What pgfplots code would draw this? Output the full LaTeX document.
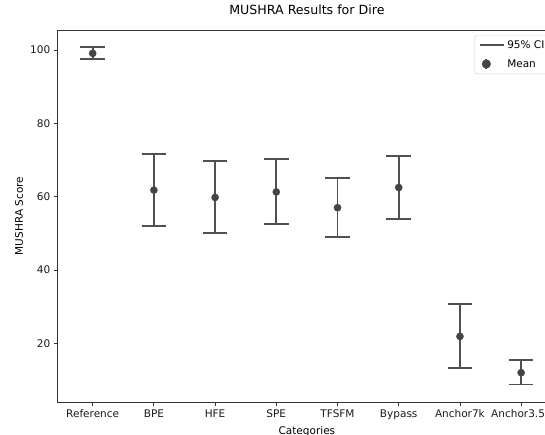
\documentclass[border=0pt]{standalone}
\usepackage{pgfplots}
\pgfplotsset{compat=1.18}
\usepackage{pgfplotstable}
\usepackage{fontspec}
\setmainfont{DejaVu Sans}
\definecolor{ebar}{HTML}{505050}
\definecolor{dotc}{HTML}{444444}

\pgfplotstableread{
x y ep em
0 99.1 1.8 1.65
1 61.8 9.9 9.8
2 59.8 9.9 9.7
3 61.3 8.9 8.8
4 57.0 8.0 7.9
5 62.5 8.7 8.6
6 21.9 8.9 8.6
7 12.0 3.45 3.2
}\data

\begin{document}
\begin{tikzpicture}
\useasboundingbox (0,0) rectangle (518.8pt,413.2pt);
\clip (0,0) rectangle (518.8pt,413.2pt);
\begin{axis}[
 at={(54.9pt,30.5pt)}, anchor=south west,
 scale only axis, width=474.5pt, height=354.1pt,
 xmin=-0.572, xmax=7.572, ymin=4.0, ymax=105.45,
 xtick={0,...,7},
 xticklabels={Reference,BPE,HFE,SPE,TFSFM,Bypass,Anchor7k,Anchor3.5k},
 ytick={20,40,60,80,100},
 tick align=outside, xtick pos=left, ytick pos=left,
 major tick length=3.5pt,
 tick style={black!80, line width=0.8pt},
 axis line style={black!80, line width=0.8pt},
 /pgf/number format/assume math mode=true,
 ticklabel style={font=\fontsize{10}{12}\selectfont, text=black!90},
 title={MUSHRA Results for Dire},
 title style={font=\fontsize{12}{14}\selectfont, at={(axis description cs:0.5,1)}, anchor=base, yshift=8.4pt},
 xlabel={Categories}, ylabel={MUSHRA Score},
 xlabel style={font=\fontsize{10}{12}\selectfont, at={([yshift=-28.6pt]axis description cs:0.5,0)}, anchor=center},
 ylabel style={font=\fontsize{10}{12}\selectfont, at={([xshift=-36.8pt]axis description cs:0,0.5)}, anchor=center},
 legend style={at={(rel axis cs:1,1)}, anchor=north east, xshift=-5pt, yshift=-5pt,
   draw=black!18, rounded corners=2pt, fill=white,
   font=\fontsize{10}{12}\selectfont, inner xsep=4pt, inner ysep=3pt, row sep=4.8pt,
   /tikz/every even column/.append style={column sep=4pt}},
 legend cell align=left,
]
\addlegendimage{draw=ebar, line width=1.8pt, legend image code/.code={\draw[draw=ebar, line width=1.8pt] (0pt,0.4pt) -- (23pt,0.4pt);}}
\addlegendentry{95\% CI}
\addlegendimage{draw=ebar, line width=1.7pt, legend image code/.code={\draw[ebar, line width=1.7pt] (6pt,-5pt) -- (6pt,5pt); \fill[dotc] (6pt,0pt) circle (3.4pt);}}
\addlegendentry{Mean}

\addplot[draw=none, mark=none, forget plot,
  error bars/.cd, y dir=both, y explicit,
  error bar style={draw=ebar, line width=1.7pt},
  error mark=|,
  error mark options={draw=ebar, line width=1.7pt, mark size=11.7pt}]
  table[x=x, y=y, y error plus=ep, y error minus=em] {\data};
\addplot[only marks, mark=*, mark size=3.4pt, dotc, mark options={fill=dotc, draw=dotc}, forget plot]
  table[x=x, y=y] {\data};
\end{axis}
\end{tikzpicture}
\end{document}
